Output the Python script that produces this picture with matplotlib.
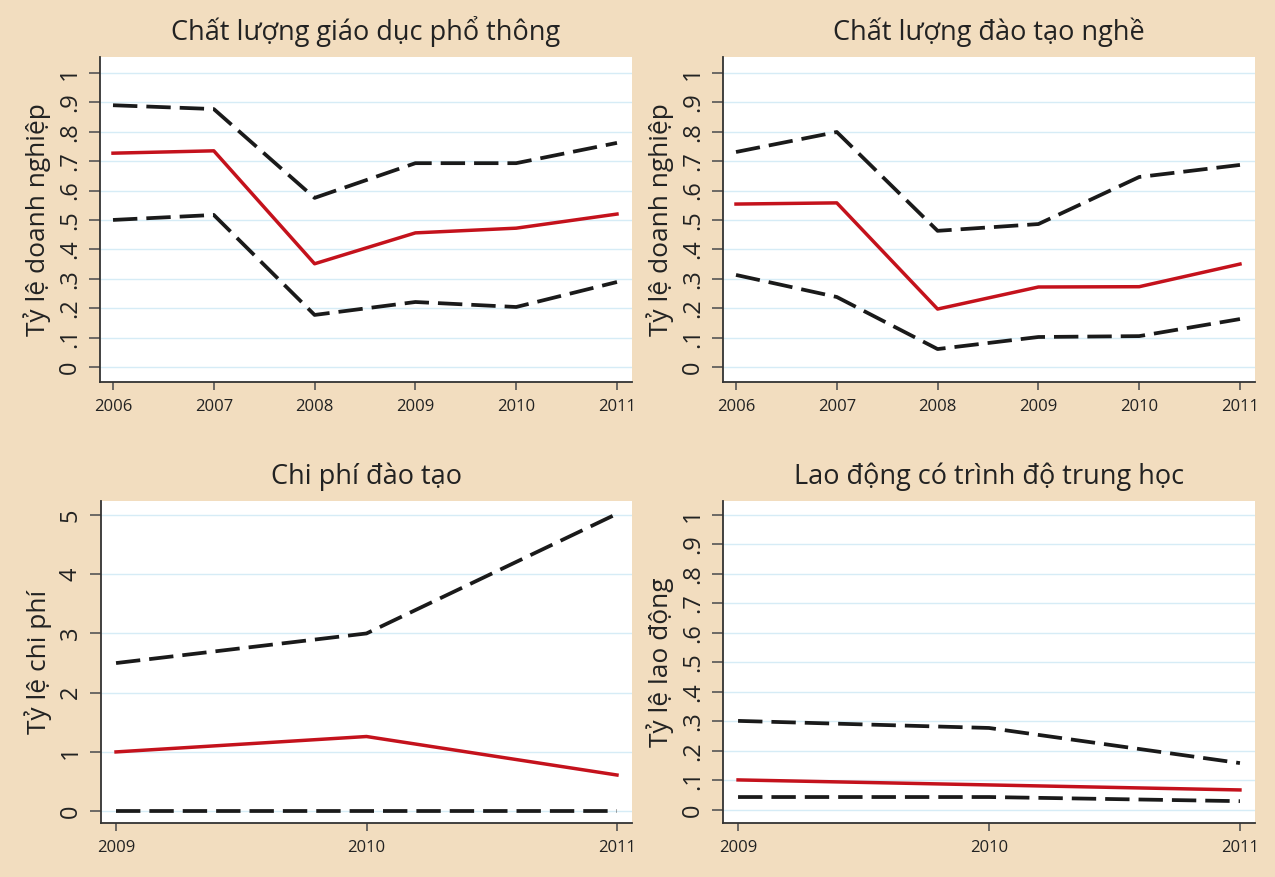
import matplotlib

matplotlib.use("Agg")
import matplotlib.pyplot as plt

# ---- data ----
years_a = [2006, 2007, 2008, 2009, 2010, 2011]
years_b = [2009, 2010, 2011]

gdpt_hi = [0.89, 0.877, 0.575, 0.693, 0.693, 0.762]
gdpt_mid = [0.727, 0.735, 0.351, 0.456, 0.472, 0.520]
gdpt_lo = [0.500, 0.517, 0.177, 0.221, 0.204, 0.289]

nghe_hi = [0.731, 0.799, 0.463, 0.486, 0.646, 0.687]
nghe_mid = [0.554, 0.558, 0.197, 0.272, 0.273, 0.350]
nghe_lo = [0.313, 0.238, 0.061, 0.102, 0.105, 0.163]

cp_hi = [2.50, 3.00, 5.02]
cp_mid = [1.00, 1.26, 0.61]
cp_lo = [0.0, 0.0, 0.0]

ld_hi = [0.302, 0.278, 0.159]
ld_mid = [0.102, 0.085, 0.068]
ld_lo = [0.044, 0.044, 0.030]

titles = ["Chất lượng giáo dục phổ thông", "Chất lượng đào tạo nghề",
          "Chi phí đào tạo", "Lao động có trình độ trung học"]
ylabels = ["Tỷ lệ doanh nghiệp", "Tỷ lệ doanh nghiệp",
           "Tỷ lệ chi phí", "Tỷ lệ lao động"]
frac_ticks = [0, 0.1, 0.2, 0.3, 0.4, 0.5, 0.6, 0.7, 0.8, 0.9, 1.0]
frac_labels = ["0", ".1", ".2", ".3", ".4", ".5", ".6", ".7", ".8", ".9", "1"]
cost_ticks = [0, 1, 2, 3, 4, 5]
cost_labels = ["0", "1", "2", "3", "4", "5"]

BG = "#F2DDBF"
RED = "#C4121C"
GRID = "#D6ECF6"
FONT = ["Open Sans", "Noto Sans", "DejaVu Sans"]

plt.rcParams["font.family"] = FONT

W, H = 1275, 877
fig = plt.figure(figsize=(W / 100, H / 100), dpi=100, facecolor=BG)


def px_axes(left, top, right, bottom):
    return fig.add_axes([left / W, 1 - bottom / H, (right - left) / W, (bottom - top) / H])


panels = [
    (px_axes(100, 57, 632, 382), years_a, (gdpt_hi, gdpt_mid, gdpt_lo),
     (2005.871, 2011.149), (-0.051, 1.054), frac_ticks, frac_labels),
    (px_axes(723, 57, 1255, 382), years_a, (nghe_hi, nghe_mid, nghe_lo),
     (2005.871, 2011.149), (-0.051, 1.054), frac_ticks, frac_labels),
    (px_axes(101, 501, 632, 823), years_b, (cp_hi, cp_mid, cp_lo),
     (2008.94, 2011.06), (-0.2, 5.236), cost_ticks, cost_labels),
    (px_axes(723, 501, 1255, 823), years_b, (ld_hi, ld_mid, ld_lo),
     (2008.94, 2011.06), (-0.044, 1.047), frac_ticks, frac_labels),
]

for i, (ax, x, (hi, mid, lo), xl, yl, yt, ytl) in enumerate(panels):
    ax.set_facecolor("white")
    ax.plot(x, hi, color="#1a1a1a", lw=2.7, dashes=(6.5, 2.4))
    ax.plot(x, lo, color="#1a1a1a", lw=2.7, dashes=(6.5, 2.4))
    ax.plot(x, mid, color=RED, lw=2.5)
    ax.set_xlim(*xl)
    ax.set_ylim(*yl)
    ax.set_xticks(x)
    ax.set_xticklabels([str(v) for v in x], fontsize=12, color="#222222")
    ax.set_yticks(yt)
    ax.set_yticklabels(ytl, rotation=90, va="center", fontsize=17, color="#222222")
    ax.grid(axis="y", color=GRID, lw=1.0)
    ax.set_axisbelow(True)
    for s in ("top", "right"):
        ax.spines[s].set_visible(False)
    for s in ("left", "bottom"):
        ax.spines[s].set_color("#333333")
        ax.spines[s].set_linewidth(1.3)
    ax.tick_params(axis="y", length=8, width=1.2, color="#555555", pad=5)
    ax.tick_params(axis="x", length=6, width=1.2, color="#555555", pad=6)
    ax.set_ylabel(ylabels[i], fontsize=19, color="#222222", labelpad=5)
    ax.set_title(titles[i], fontsize=19.5, color="#222222", pad=12)

fig.savefig("out.png", dpi=100, facecolor=BG)
